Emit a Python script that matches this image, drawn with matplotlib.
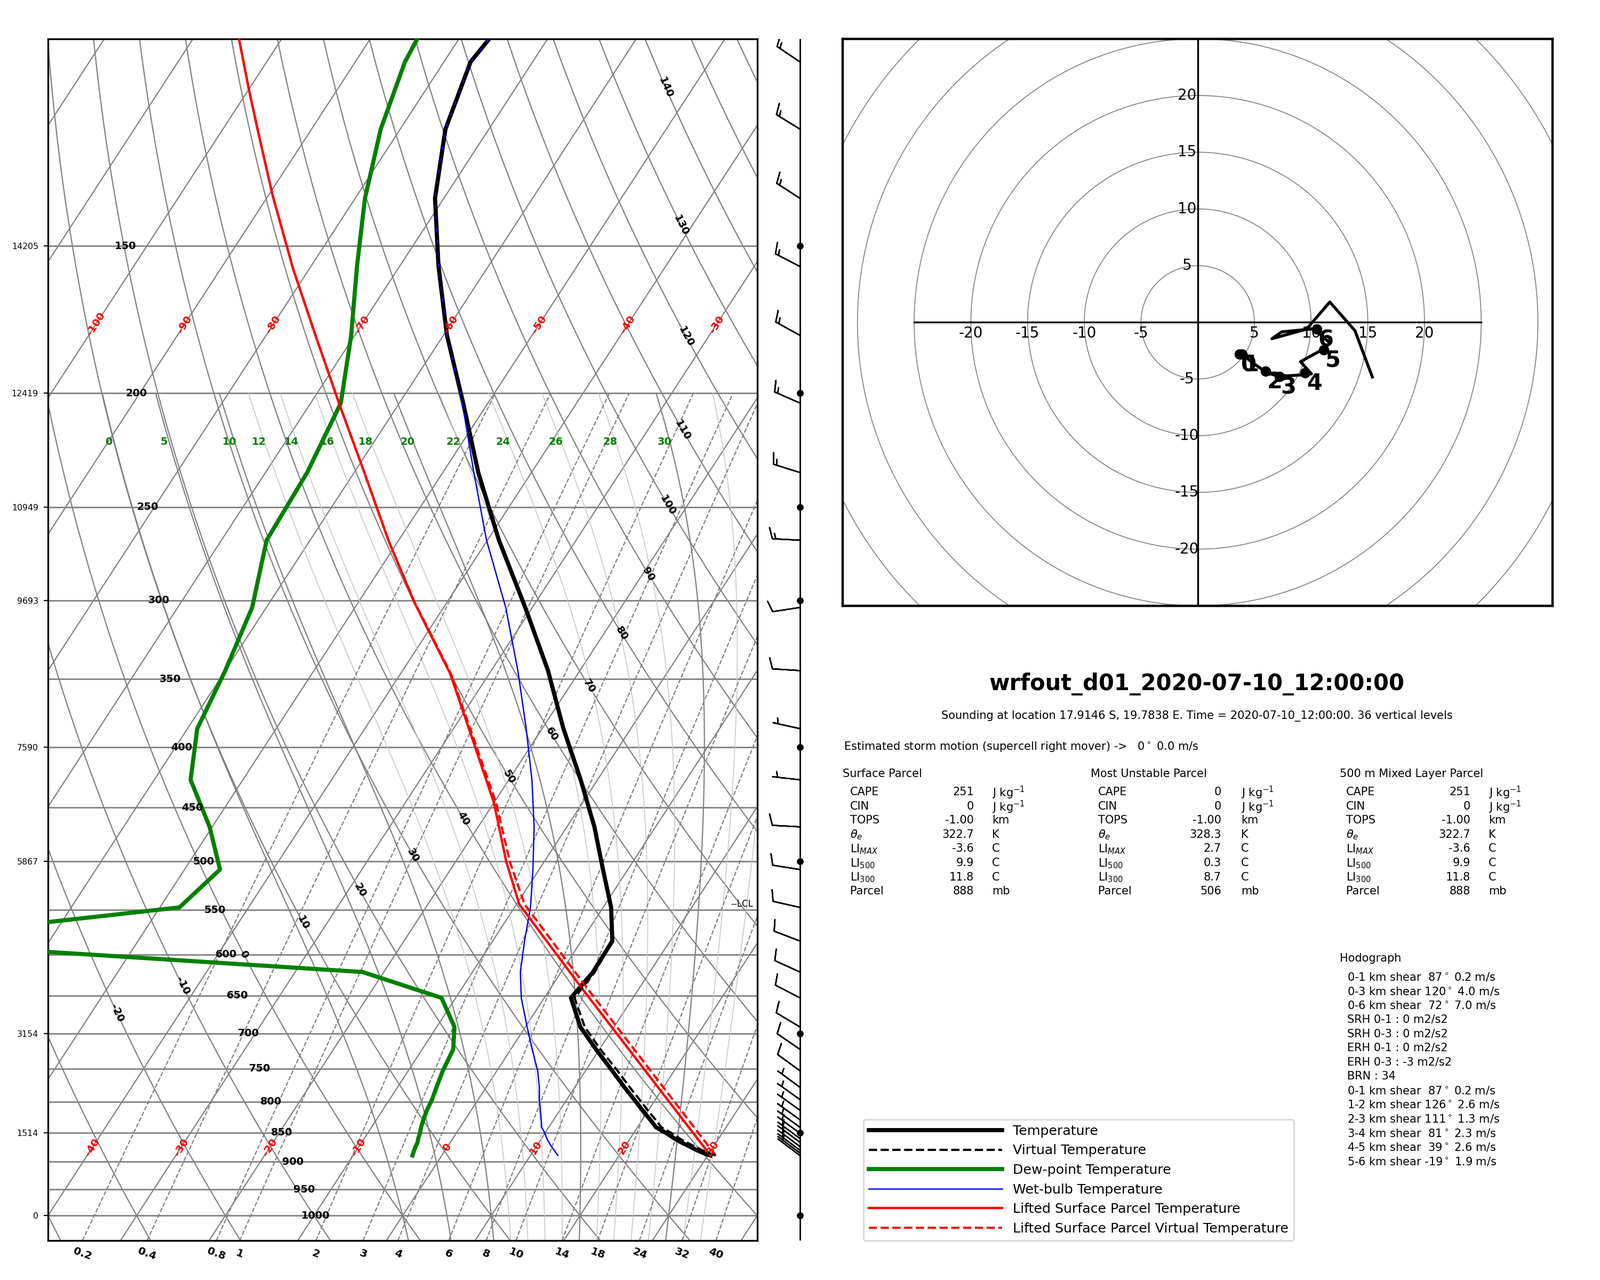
import numpy as np
import matplotlib
matplotlib.use("Agg")
import matplotlib.pyplot as plt
import matplotlib.transforms as mtransforms
from matplotlib import ticker
from matplotlib.lines import Line2D


# ---------------- sounding ----------------
pressure = [888.9, 884.5, 879.9, 873.5, 866.2, 859.9, 851.0, 841.2, 829.0, 813.6,
            796.8, 777.9, 753.1, 722.2, 691.3, 653.0, 620.8, 584.3, 547.1, 508.0,
            467.3, 426.2, 385.6, 344.2, 304.2, 266.7, 233.6, 203.9, 178.6, 156.1,
            136.6, 119.3, 104.6, 90.0]
temperature = [30.3, 29.3, 28.4, 27.3, 26.0, 25.0, 23.7, 22.1, 20.9, 19.3,
               17.6, 15.6, 13.0, 9.6, 6.2, 3.0, 3.6, 3.5, 0.9, -2.8,
               -6.9, -11.9, -17.6, -23.6, -30.8, -38.7, -46.0, -52.8, -59.6, -65.6,
               -71.0, -74.9, -77.0, -75.6]
virtual_temperature = [30.9, 29.9, 29.0, 27.9, 26.6, 25.6, 24.3, 22.7, 21.5, 19.9,
                       18.2, 16.2, 13.6, 10.1, 6.7, 3.4, 3.8, 3.5, 0.9, -2.8,
                       -6.9, -11.9, -17.6, -23.6, -30.8, -38.7, -46.0, -52.8, -59.6, -65.6,
                       -71.0, -74.9, -77.0, -75.6]
dewpoint = [-3.3, -3.4, -3.5, -3.6, -3.7, -3.9, -4.1, -4.4, -4.7, -5.0,
            -5.2, -5.6, -6.1, -6.5, -8.0, -11.6, -22.4, -79.3, -47.8, -46.0,
            -50.3, -55.9, -58.9, -60.0, -61.6, -64.9, -65.3, -66.6, -70.4, -74.8,
            -78.9, -82.2, -84.4, -85.4]
wetbulb = [13.1, 12.7, 12.3, 11.7, 11.1, 10.6, 10.0, 9.2, 8.6, 7.8,
           6.9, 6.0, 4.6, 2.4, 0.2, -2.6, -4.6, -6.4, -8.2, -10.7,
           -13.7, -17.4, -21.8, -27.0, -33.0, -40.1, -46.5, -52.9, -59.6, -65.6,
           -71.0, -74.9, -77.0, -75.6]
u_wind = [3.70, 3.72, 3.74, 3.76, 3.78, 3.80, 3.82, 3.85, 3.87, 3.90,
          4.05, 4.71, 6.10, 6.76, 7.85, 9.00, 10.03, 9.07, 10.90, 11.69,
          10.25, 7.42, 6.54, 9.60, 11.65, 13.87, 15.40, 13.3, 12.7, 12.9,
          12.2, 12.3, 12.0, 12.0]
v_wind = [-2.78, -2.78, -2.79, -2.80, -2.80, -2.81, -2.80, -2.80, -2.79, -2.79,
          -2.90, -3.47, -4.45, -4.65, -4.72, -4.65, -4.55, -3.47, -2.46, -1.85,
          -0.57, -0.84, -1.45, -0.60, 1.79, -0.74, -4.82, -5.8, -7.0, -6.7,
          -7.9, -7.6, -8.1, -8.1]

# lifted surface parcel
parcel_p = [888.9, 640.6, 543.7, 500.1, 445.8, 390.1, 346.3, 301.1, 267.0,
            232.2, 205.0, 179.0, 156.9, 135.9, 121.2, 110.8, 99.8]
parcel_t = [30.3, 3.5, -9.7, -14.3, -20.0, -27.6, -34.4, -43.7, -51.1,
            -59.2, -66.5, -74.3, -81.8, -89.5, -95.3, -99.8, -104.9]
parcel_tv = [30.9, 4.1, -9.1, -13.9, -19.75, -27.45, -34.32, -43.66, -51.1,
             -59.2, -66.5, -74.3, -81.8, -89.5, -95.3, -99.8, -104.9]
lcl_p = 543.7

# heights of the main levels (left axis)
height_p = [150, 200, 250, 300, 400, 500, 700, 850, 1000]
height_m = ['14205', '12419', '10949', '9693', '7590', '5867', '3154', '1514', '0']

# hodograph km marks
hodo_km_u = [3.70, 3.90, 6.00, 7.21, 9.48, 11.12, 10.50]
hodo_km_v = [-2.80, -2.79, -4.32, -4.79, -4.43, -2.41, -0.61]

# background line sets
isotherms = list(range(-130, 50, 10))
dry_adiabats = list(range(-40, 180, 10))
moist_solid = [0, 5, 10, 20, 30]
moist_faint = [12, 14, 16, 18, 22, 24, 26, 28, 32, 34]
moist_labels = [0, 5, 10, 12, 14, 16, 18, 20, 22, 24, 26, 28, 30]
mix_ratios = [0.2, 0.4, 0.8, 1, 2, 3, 4, 6, 8, 10, 14, 18, 24, 32, 40]

# label placement
dry_label_theta = [140, 130, 120, 110, 100, 90, 80, 70, 60, 50, 40, 30, 20, 10, 0, -10, -20]
dry_label_p = [110, 144, 179, 215, 249, 285, 320, 355, 390, 424, 460, 494, 529, 564, 600, 638, 673]

# text panel
table_rows = ['CAPE', 'CIN', 'TOPS', r'$\theta_e$', r'LI$_{MAX}$', r'LI$_{500}$', r'LI$_{300}$', 'Parcel']
table_units = [r'J kg$^{-1}$', r'J kg$^{-1}$', 'km', 'K', 'C', 'C', 'C', 'mb']
parcel_titles = ['Surface Parcel', 'Most Unstable Parcel', '500 m Mixed Layer Parcel']
surface_vals = ['251', '0', '-1.00', '322.7', '-3.6', '9.9', '11.8', '888']
mu_vals = ['0', '0', '-1.00', '328.3', '2.7', '0.3', '8.7', '506']
ml_vals = ['251', '0', '-1.00', '322.7', '-3.6', '9.9', '11.8', '888']
hodo_lines = [r'0-1 km shear  87$^\circ$ 0.2 m/s',
              r'0-3 km shear 120$^\circ$ 4.0 m/s',
              r'0-6 km shear  72$^\circ$ 7.0 m/s',
              'SRH 0-1 : 0 m2/s2',
              'SRH 0-3 : 0 m2/s2',
              'ERH 0-1 : 0 m2/s2',
              'ERH 0-3 : -3 m2/s2',
              'BRN : 34',
              r'0-1 km shear  87$^\circ$ 0.2 m/s',
              r'1-2 km shear 126$^\circ$ 2.6 m/s',
              r'2-3 km shear 111$^\circ$ 1.3 m/s',
              r'3-4 km shear  81$^\circ$ 2.3 m/s',
              r'4-5 km shear  39$^\circ$ 2.6 m/s',
              r'5-6 km shear -19$^\circ$ 1.9 m/s']

SKEW = 37.5
P_BOT, P_TOP = 1050.0, 100.0
RD, CP, LV, EPS = 287.04, 1005.7, 2.501e6, 0.622
SMALL = 7.5


def skew_x(t, p):
    return np.asarray(t, float) + SKEW * np.log(1000.0 / np.asarray(p, float))


def sat_mix(tk, p):
    es = 6.112 * np.exp(17.67 * (tk - 273.15) / (tk - 29.65))
    return EPS * es / (p - es)


def dt_dlnp(tk, p):
    ws = sat_mix(tk, p)
    return (RD * tk + LV * ws) / (CP + LV ** 2 * ws * EPS / (RD * tk ** 2))


def integrate(t0, lnp):
    out = [t0]
    t = t0
    for a, b in zip(lnp[:-1], lnp[1:]):
        h = b - a
        k1 = dt_dlnp(t, np.exp(a))
        k2 = dt_dlnp(t + h * k1, np.exp(b))
        t = t + 0.5 * h * (k1 + k2)
        out.append(t)
    return np.array(out)


def moist_adiabat(thw):
    up = np.linspace(np.log(1000.0), np.log(200.0), 300)
    down = np.linspace(np.log(1000.0), np.log(1050.0), 20)
    t_up = integrate(thw + 273.15, up)
    t_down = integrate(thw + 273.15, down)
    p = np.exp(np.concatenate([down[::-1], up[1:]]))
    t = np.concatenate([t_down[::-1], t_up[1:]]) - 273.15
    return p, t


def mix_dewpoint(w_gkg, p):
    w = w_gkg / 1000.0
    e = w * p / (EPS + w)
    x = np.log(e / 6.112)
    return 243.5 * x / (17.67 - x)


def screen_angle(ax, x1, p1, x2, p2):
    a = ax.transData.transform((x1, p1))
    b = ax.transData.transform((x2, p2))
    return np.degrees(np.arctan2(b[1] - a[1], b[0] - a[0]))


def main():
    pres = np.array(pressure)
    fig = plt.figure(figsize=(15, 12), dpi=200)

    # ---------------- Skew-T ----------------
    ax = fig.add_axes([0.030, 0.0308, 0.4433, 0.9388])
    ax.set_yscale('log')
    ax.set_ylim(P_BOT, P_TOP)
    ax.set_xlim(-40, 40)
    for s in ax.spines.values():
        s.set_linewidth(1.2)

    grey = '#808080'
    p_line = np.exp(np.linspace(np.log(P_BOT), np.log(P_TOP), 60))

    for pl in range(150, 1001, 50):
        ax.axhline(pl, color=grey, lw=1.0, zorder=1)

    for t in isotherms:
        ax.plot(skew_x(np.full_like(p_line, t), p_line), p_line, color=grey, lw=0.8, zorder=1)

    for th in dry_adiabats:
        t = (th + 273.15) * (p_line / 1000.0) ** (RD / CP) - 273.15
        ax.plot(skew_x(t, p_line), p_line, color=grey, lw=0.8, zorder=1)

    moist_curves = {}
    for thw in sorted(moist_solid + moist_faint):
        mp, mt = moist_adiabat(thw)
        moist_curves[thw] = (mp, mt)
        if thw in moist_solid:
            ax.plot(skew_x(mt, mp), mp, color=grey, lw=0.8, zorder=1)
        else:
            ax.plot(skew_x(mt, mp), mp, color='#c8c8c8', lw=0.6, zorder=1)

    p_mix = np.exp(np.linspace(np.log(P_BOT), np.log(200.0), 40))
    for w in mix_ratios:
        ax.plot(skew_x(mix_dewpoint(w, p_mix), p_mix), p_mix, color=grey,
                lw=0.8, ls='--', zorder=1)

    # sounding curves
    ax.plot(skew_x(temperature, pres), pres, color='black', lw=2.8, zorder=4)
    ax.plot(skew_x(dewpoint, pres), pres, color='green', lw=2.8, zorder=4)
    ax.plot(skew_x(wetbulb, pres), pres, color='blue', lw=0.9, zorder=5)
    ax.plot(skew_x(virtual_temperature, pres), pres, color='black', lw=1.5, ls='--', zorder=6)
    ax.plot(skew_x(parcel_t, parcel_p), parcel_p, color='red', lw=1.6, zorder=5)
    ax.plot(skew_x(parcel_tv, parcel_p), parcel_p, color='red', lw=1.5, ls='--', zorder=5)

    # ticks: heights on the left
    ax.yaxis.set_major_locator(ticker.FixedLocator(height_p))
    ax.yaxis.set_major_formatter(ticker.FixedFormatter(height_m))
    ax.yaxis.set_minor_locator(ticker.NullLocator())
    ax.yaxis.set_minor_formatter(ticker.NullFormatter())
    ax.tick_params(axis='y', labelsize=5.7, length=3, width=0.8)
    ax.set_xticks([])

    trans = mtransforms.blended_transform_factory(ax.transAxes, ax.transData)
    for pl in range(150, 1001, 50):
        ax.text(0.377 - (1000 - pl) / 850.0 * 0.268, pl, str(pl), transform=trans,
                ha='center', va='center', fontsize=7, fontweight='bold', zorder=7)

    # isotherm labels
    iso_rot = screen_angle(ax, skew_x(0, 900), 900, skew_x(0, 800), 800)
    for t in range(-40, 31, 10):
        ax.text(skew_x(t, 875), 875, str(t), color='red', fontsize=7, fontweight='bold',
                rotation=iso_rot, ha='center', va='center', zorder=7)
    for t in range(-100, -29, 10):
        ax.text(skew_x(t, 174.8), 174.8, str(t), color='red', fontsize=7, fontweight='bold',
                rotation=iso_rot, ha='center', va='center', zorder=7)

    # dry adiabat labels
    for th, pl in zip(dry_label_theta, dry_label_p):
        t1 = (th + 273.15) * (pl * 1.02 / 1000.0) ** (RD / CP) - 273.15
        t2 = (th + 273.15) * (pl * 0.98 / 1000.0) ** (RD / CP) - 273.15
        t0 = (th + 273.15) * (pl / 1000.0) ** (RD / CP) - 273.15
        rot = screen_angle(ax, skew_x(t1, pl * 1.02), pl * 1.02, skew_x(t2, pl * 0.98), pl * 0.98)
        if rot > 90:
            rot -= 180
        elif rot < -90:
            rot += 180
        ax.text(skew_x(t0, pl), pl, str(th), fontsize=7, fontweight='bold',
                rotation=rot, ha='center', va='center', zorder=7)

    # moist adiabat labels
    for thw in moist_labels:
        mp, mt = moist_curves[thw]
        t220 = np.interp(np.log(220.0), np.log(mp[::-1]), mt[::-1])
        ax.text(skew_x(t220, 220.0) - 0.6, 220.0, str(thw), color='green', fontsize=7,
                fontweight='bold', ha='center', va='center', zorder=7)

    # mixing ratio labels under the axis
    trans_b = mtransforms.blended_transform_factory(ax.transData, ax.transAxes)
    for w in mix_ratios:
        ax.text(skew_x(mix_dewpoint(w, P_BOT), P_BOT), -0.011, '%g' % w, transform=trans_b,
                fontsize=7.2, fontweight='bold', rotation=-20, ha='center', va='center',
                clip_on=False)

    ax.text(0.994, lcl_p, '--LCL', transform=trans, ha='right', va='center', fontsize=6, zorder=7)

    # ---------------- wind barbs ----------------
    axb = fig.add_axes([0.4733, 0.0308, 0.0533, 0.9388])
    axb.set_yscale('log')
    axb.set_ylim(P_BOT, P_TOP)
    axb.set_xlim(-1, 1)
    axb.axis('off')
    axb.plot([0, 0], [P_BOT, P_TOP], color='black', lw=1.0)
    keep = pres >= P_TOP
    axb.barbs(np.zeros(keep.sum()), pres[keep], np.array(u_wind)[keep], np.array(v_wind)[keep],
              length=6.1, lw=0.9, color='black')
    axb.plot(np.zeros(len(height_p)), height_p, 'o', color='black', ms=3.6)

    # ---------------- hodograph ----------------
    axh = fig.add_axes([0.5267, 0.5267, 0.4437, 0.4430])
    ratio = (0.4437 * 15) / (0.4430 * 12)
    axh.set_xlim(-25 * ratio, 25 * ratio)
    axh.set_ylim(-25, 25)
    axh.set_xticks([])
    axh.set_yticks([])
    for s in axh.spines.values():
        s.set_linewidth(1.6)
    ang = np.linspace(0, 2 * np.pi, 361)
    for r in range(5, 40, 5):
        axh.plot(r * np.cos(ang), r * np.sin(ang), color=grey, lw=0.6)
    axh.plot([-25, 25], [0, 0], color='black', lw=1.2)
    axh.plot([0, 0], [-25, 25], color='black', lw=1.2)
    for val in [-20, -15, -10, -5, 5, 10, 15, 20]:
        axh.text(val, -0.95, str(val), ha='center', va='center', fontsize=10)
        axh.text(-0.95, val, str(val), ha='center', va='center', fontsize=10)
    low = pres >= 230
    axh.plot(np.array(u_wind)[low], np.array(v_wind)[low], color='black', lw=2.0)
    axh.plot(hodo_km_u, hodo_km_v, 'o', color='black', ms=6)
    for i, (x, y) in enumerate(zip(hodo_km_u, hodo_km_v)):
        axh.text(x + 0.8, y - 0.95, str(i), fontsize=15, fontweight='bold',
                 ha='center', va='center')

    # ---------------- text panel ----------------
    fig.text(0.748, 0.4658, 'wrfout_d01_2020-07-10_12:00:00', ha='center', va='center',
             fontsize=15, fontweight='bold')
    fig.text(0.748, 0.4408, 'Sounding at location 17.9146 S, 19.7838 E. Time = '
             '2020-07-10_12:00:00. 36 vertical levels', ha='center', va='center', fontsize=SMALL)
    fig.text(0.5273, 0.4179, r'Estimated storm motion (supercell right mover) ->   0$^\circ$ 0.0 m/s',
             ha='left', va='center_baseline', fontsize=SMALL)

    col_title_x = [0.5268, 0.6817, 0.8373]
    col_name_x = [0.5312, 0.6863, 0.8413]
    col_val_x = [0.6086, 0.7633, 0.9190]
    col_unit_x = [0.6200, 0.7757, 0.9303]
    columns = [surface_vals, mu_vals, ml_vals]
    row_y0, row_dy = 0.3821, 0.01108
    for c in range(3):
        fig.text(col_title_x[c], 0.39625, parcel_titles[c], ha='left', va='center_baseline',
                 fontsize=SMALL)
        for r, name in enumerate(table_rows):
            y = row_y0 - r * row_dy
            fig.text(col_name_x[c], y, name, ha='left', va='center_baseline', fontsize=SMALL)
            fig.text(col_val_x[c], y, columns[c][r], ha='right', va='center_baseline', fontsize=SMALL)
            fig.text(col_unit_x[c], y, table_units[r], ha='left', va='center_baseline', fontsize=SMALL)

    fig.text(0.8373, 0.2521, 'Hodograph', ha='left', va='center_baseline', fontsize=SMALL)
    for i, line in enumerate(hodo_lines):
        fig.text(0.8420, 0.2375 - i * row_dy, line, ha='left', va='center_baseline', fontsize=SMALL)

    # ---------------- legend ----------------
    handles = [Line2D([], [], color='black', lw=2.8),
               Line2D([], [], color='black', lw=1.5, ls='--'),
               Line2D([], [], color='green', lw=2.8),
               Line2D([], [], color='blue', lw=0.9),
               Line2D([], [], color='red', lw=1.6),
               Line2D([], [], color='red', lw=1.5, ls='--')]
    labels = ['Temperature', 'Virtual Temperature', 'Dew-point Temperature',
              'Wet-bulb Temperature', 'Lifted Surface Parcel Temperature',
              'Lifted Surface Parcel Virtual Temperature']
    fig.legend(handles, labels, loc='lower left', bbox_to_anchor=(0.5395, 0.0308),
               borderaxespad=0.0, fontsize=9.1, handlelength=9.9)

    fig.savefig('out.png', dpi=200)


if __name__ == "__main__":
    main()
